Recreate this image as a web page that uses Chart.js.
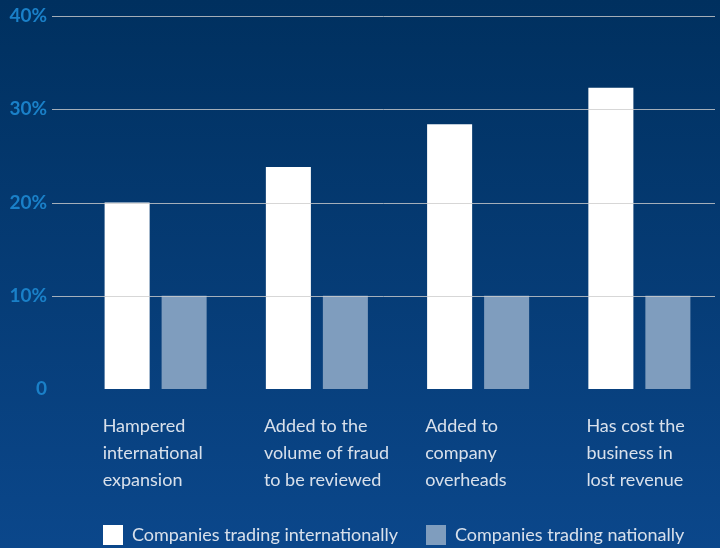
<!DOCTYPE html>
<html>
<head>
<meta charset="utf-8">
<script src="https://cdn.jsdelivr.net/npm/chart.js@4.4.0/dist/chart.umd.min.js"></script>
<style>
  html, body { margin: 0; padding: 0; }
  body { width: 720px; height: 548px; overflow: hidden; background: linear-gradient(#00305f, #0b478b); }
  #wrap { position: relative; width: 720px; height: 548px; }
</style>
</head>
<body>
<div id="wrap"><canvas id="chart"></canvas></div>
<script>
// data
const categories = [
  ["Hampered", "international", "expansion"],
  ["Added to the", "volume of fraud", "to be reviewed"],
  ["Added to", "company", "overheads"],
  ["Has cost the", "business in", "lost revenue"]
];
const international = [20, 23.8, 28.4, 32.3];
const national = [10, 10, 10, 10];
const yTicks = [0, 10, 20, 30, 40];
const seriesNames = ["Companies trading internationally", "Companies trading nationally"];

const labelFont = { family: "Lato, 'Open Sans', sans-serif", size: 18, lineHeight: 1.5 };

// gridlines are drawn over the bars and run further left than the plot
const gridLines = {
  id: "gridLines",
  afterDatasetsDraw(chart) {
    const y = chart.scales.y;
    const ctx = chart.ctx;
    ctx.save();
    ctx.strokeStyle = "rgba(205,205,205,0.8)";
    ctx.lineWidth = 1;
    yTicks.forEach((t) => {
      if (t === 0) return;
      const py = Math.round(y.getPixelForValue(t)) + 0.5;
      ctx.beginPath();
      ctx.moveTo(52, py);
      ctx.lineTo(715, py);
      ctx.stroke();
    });
    ctx.restore();
  }
};

new Chart(document.getElementById("chart"), {
  type: "bar",
  data: {
    labels: categories,
    datasets: [
      {
        label: seriesNames[0],
        data: international,
        backgroundColor: "#ffffff",
        borderWidth: 0,
        barPercentage: 0.79,
        categoryPercentage: 0.707
      },
      {
        label: seriesNames[1],
        data: national,
        backgroundColor: "#7f9dbe",
        borderWidth: 0,
        barPercentage: 0.79,
        categoryPercentage: 0.707
      }
    ]
  },
  options: {
    responsive: true,
    maintainAspectRatio: false,
    animation: false,
    layout: { autoPadding: false, padding: { top: 16, right: 0, left: 0, bottom: 0 } },
    plugins: {
      tooltip: { enabled: false },
      legend: {
        position: "bottom",
        align: "start",
        fullSize: false,
        maxHeight: 51,
        labels: {
          boxWidth: 20,
          boxHeight: 20,
          padding: 28,
          color: "#d8e0eb",
          font: labelFont
        }
      }
    },
    scales: {
      x: {
        grid: { display: false },
        border: { display: false },
        afterFit: (scale) => {
          scale.height = 108;
          scale.paddingLeft = 0;
          scale.paddingRight = 0;
        },
        ticks: {
          align: "start",
          labelOffset: -53,
          padding: 16,
          autoSkip: false,
          maxRotation: 0,
          color: "#d8e0eb",
          font: labelFont
        }
      },
      y: {
        min: 0,
        max: 40,
        grid: { display: false },
        border: { display: false },
        afterFit: (scale) => {
          scale.width = 75;
          scale.paddingTop = 0;
          scale.paddingBottom = 0;
        },
        afterBuildTicks: (scale) => { scale.ticks = yTicks.map((v) => ({ value: v })); },
        ticks: {
          padding: 20,
          color: "#1a80c8",
          font: { family: "Lato, 'Open Sans', sans-serif", size: 19, weight: "bold" },
          callback: (v) => (v === 0 ? "0" : v + "%")
        }
      }
    }
  },
  plugins: [gridLines]
});
</script>
</body>
</html>
